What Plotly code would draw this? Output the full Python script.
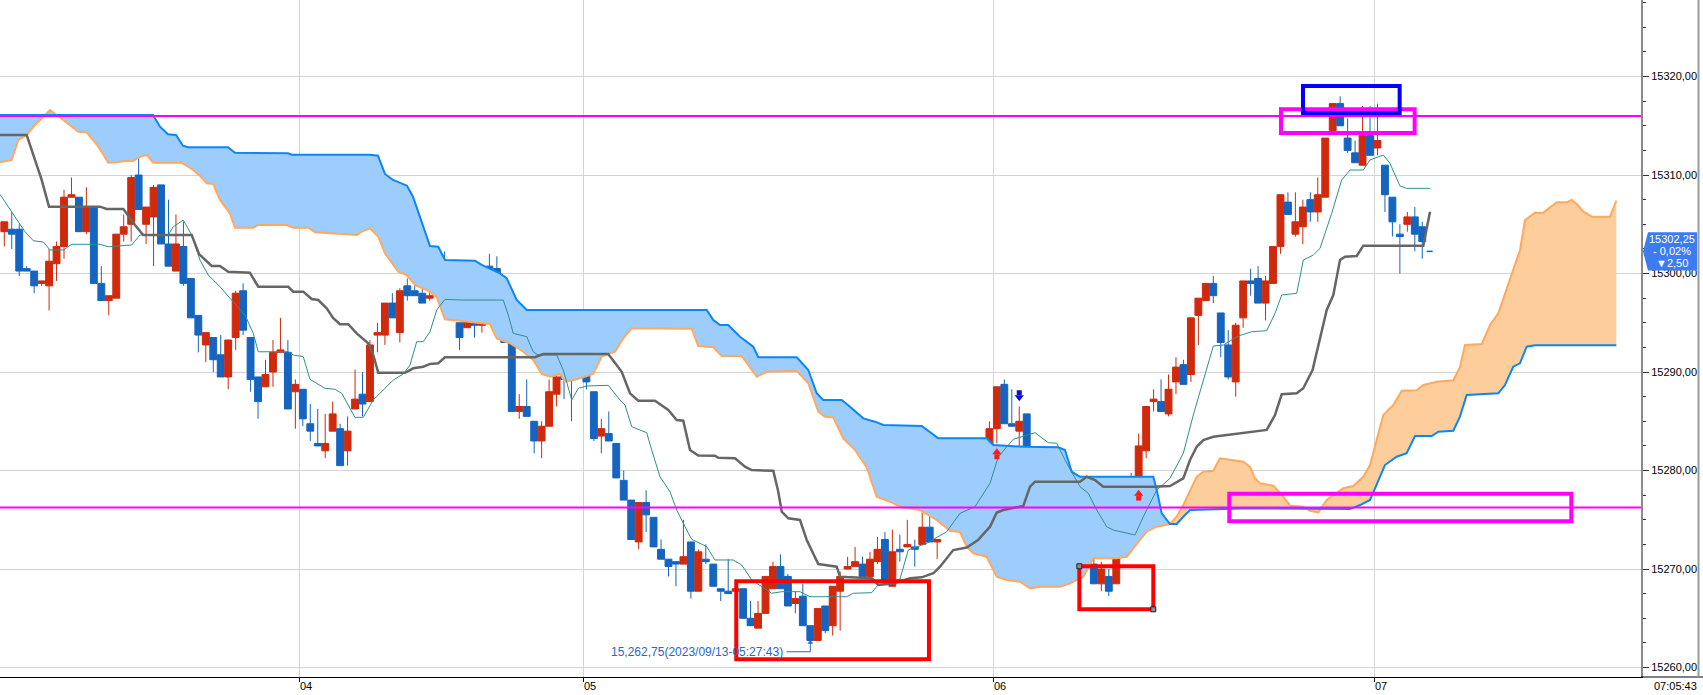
import plotly.graph_objects as go

# ---------------- candle data (index 0..190) ----------------
OPEN = [
    15304.25, 15304.5, 15304.5, 15300.5, 15300.25, 15299.0, 15298.75, 15301.0, 15302.75, 15307.75,
    15307.75, 15304.25, 15306.75, 15299.0, 15297.25, 15297.5, 15304.0, 15305.0, 15310.0, 15305.0,
    15305.75, 15309.0, 15303.0, 15300.25, 15302.75, 15299.5, 15295.75, 15292.75, 15293.5, 15291.75,
    15289.5, 15293.5, 15298.25, 15293.5, 15289.5, 15288.5, 15290.0, 15292.0, 15292.0, 15288.0,
    15288.25, 15284.75, 15282.75, 15282.0, 15284.0, 15284.25, 15282.0, 15286.25, 15287.75, 15287.0,
    15293.75, 15293.75, 15297.0, 15294.0, 15298.75, 15298.25, 15298.0, 15297.5, 15297.75, 15300.75,
    15297.75, 15295.0, 15294.5, 15298.75, 15294.75, 15300.75, 15300.5, 15297.0, 15293.0, 15286.0,
    15286.5, 15285.0, 15283.0, 15284.5, 15287.75, 15289.75, 15289.5, 15292.5, 15295.5, 15288.0,
    15283.5, 15283.75, 15282.75, 15279.0, 15277.0, 15272.75, 15276.75, 15275.25, 15272.0, 15271.0,
    15270.75, 15270.5, 15272.75, 15267.75, 15271.0, 15270.5, 15268.0, 15267.75, 15267.75, 15268.0,
    15265.0, 15264.0, 15265.5, 15268.0, 15270.25, 15269.25, 15266.5, 15267.25, 15264.25, 15262.75,
    15266.25, 15264.25, 15267.75, 15270.0, 15270.25, 15270.5, 15269.25, 15270.75, 15273.0, 15268.25,
    15272.0, 15272.25, 15272.25, 15272.5, 15274.25, 15272.75, 15274.5, 15278.25, 15280.5, 15279.5,
    15281.5, 15280.0, 15282.25, 15284.25, 15288.75, 15284.75, 15284.0, 15285.75, 15281.0, 15278.25,
    15278.25, 15278.25, 15278.25, 15272.75, 15270.5, 15274.25, 15270.5, 15268.5, 15269.25, 15268.5,
    15273.0, 15275.5, 15279.25, 15282.0, 15287.0, 15287.0, 15285.75, 15289.0, 15290.75, 15289.75,
    15295.75, 15297.25, 15299.0, 15296.0, 15292.75, 15289.0, 15295.5, 15299.25, 15299.5, 15297.0,
    15299.0, 15302.75, 15307.25, 15304.0, 15304.75, 15307.5, 15306.25, 15307.75, 15314.5, 15317.25,
    15313.75, 15312.25, 15311.0, 15314.0, 15312.75, 15311.0, 15307.75, 15304.0, 15305.0, 15305.75,
    15304.75,
]
HIGH = [
    15305.25, 15306.25, 15305.0, 15300.75, 15300.25, 15299.25, 15302.5, 15303.25, 15308.5, 15309.75,
    15307.75, 15308.75, 15306.75, 15300.75, 15297.75, 15304.0, 15306.0, 15310.0, 15312.0, 15306.75,
    15309.0, 15309.0, 15307.5, 15306.0, 15305.25, 15299.5, 15295.75, 15294.0, 15293.5, 15293.75,
    15293.25, 15298.25, 15299.0, 15293.5, 15289.5, 15291.25, 15293.25, 15295.5, 15293.25, 15289.25,
    15288.25, 15286.75, 15286.25, 15285.75, 15287.0, 15284.75, 15285.5, 15290.25, 15290.0, 15293.25,
    15295.0, 15297.0, 15298.0, 15298.5, 15299.5, 15300.5, 15299.5, 15301.0, 15300.75, 15302.25,
    15298.5, 15295.0, 15299.75, 15298.75, 15300.5, 15302.0, 15301.75, 15297.0, 15293.0, 15287.75,
    15289.25, 15285.0, 15285.0, 15289.25, 15292.25, 15290.25, 15292.75, 15295.5, 15295.75, 15288.0,
    15285.25, 15286.0, 15282.75, 15280.0, 15277.0, 15276.75, 15278.0, 15275.25, 15273.0, 15271.0,
    15270.75, 15275.0, 15272.75, 15272.0, 15272.5, 15270.5, 15268.0, 15271.0, 15268.25, 15268.0,
    15266.75, 15266.75, 15269.25, 15270.75, 15271.5, 15269.5, 15267.75, 15268.5, 15264.25, 15266.0,
    15266.25, 15268.25, 15269.75, 15271.25, 15272.25, 15271.25, 15271.75, 15273.25, 15273.75, 15274.0,
    15273.5, 15275.0, 15273.0, 15275.75, 15276.5, 15273.0, 15278.0, 15280.5, 15281.25, 15281.25,
    15281.5, 15283.25, 15285.0, 15288.5, 15289.25, 15288.25, 15286.5, 15285.75, 15281.0, 15279.75,
    15279.5, 15281.0, 15279.75, 15272.75, 15274.25, 15274.5, 15271.25, 15270.75, 15270.0, 15275.5,
    15276.0, 15279.75, 15283.75, 15286.5, 15288.25, 15289.25, 15289.75, 15291.5, 15291.25, 15295.5,
    15297.5, 15299.0, 15299.75, 15296.0, 15294.25, 15295.0, 15299.25, 15300.5, 15300.75, 15299.75,
    15302.75, 15308.0, 15308.25, 15308.25, 15307.5, 15308.25, 15309.75, 15313.75, 15317.25, 15318.0,
    15315.75, 15313.5, 15317.0, 15317.0, 15317.25, 15311.0, 15307.75, 15305.0, 15306.25, 15306.75,
    15305.25,
]
LOW = [
    15302.75, 15302.5, 15299.75, 15300.25, 15298.0, 15298.75, 15296.25, 15299.25, 15301.5, 15307.75,
    15304.25, 15304.0, 15299.0, 15297.25, 15295.75, 15297.5, 15303.25, 15303.25, 15306.5, 15303.0,
    15300.75, 15303.0, 15300.75, 15300.25, 15298.75, 15295.5, 15292.0, 15291.0, 15290.0, 15289.5,
    15288.25, 15292.25, 15293.75, 15288.0, 15285.25, 15288.5, 15288.5, 15292.0, 15286.25, 15284.25,
    15284.5, 15283.0, 15282.5, 15281.25, 15284.0, 15280.5, 15280.5, 15286.25, 15285.5, 15287.0,
    15292.0, 15292.75, 15295.5, 15293.0, 15297.25, 15297.75, 15297.0, 15297.25, 15297.75, 15296.0,
    15295.5, 15292.25, 15294.5, 15293.5, 15294.0, 15298.5, 15297.5, 15293.0, 15286.0, 15285.25,
    15285.5, 15281.75, 15281.25, 15284.5, 15286.5, 15287.25, 15285.0, 15291.5, 15288.25, 15283.0,
    15281.75, 15283.0, 15279.25, 15277.0, 15273.0, 15272.0, 15273.75, 15272.25, 15271.0, 15269.25,
    15268.25, 15270.5, 15267.0, 15267.75, 15270.5, 15268.25, 15266.75, 15267.5, 15267.5, 15265.0,
    15264.25, 15264.0, 15265.5, 15268.0, 15268.0, 15266.25, 15265.5, 15264.25, 15262.75, 15262.75,
    15263.5, 15263.25, 15263.75, 15270.0, 15270.25, 15269.25, 15268.75, 15270.5, 15268.75, 15268.25,
    15270.75, 15272.25, 15270.25, 15272.5, 15272.75, 15271.0, 15274.5, 15278.25, 15279.0, 15277.0,
    15278.5, 15280.0, 15282.25, 15282.75, 15284.75, 15284.5, 15281.0, 15280.5, 15278.5, 15277.0,
    15276.25, 15276.75, 15273.25, 15269.5, 15270.5, 15270.5, 15268.5, 15267.75, 15267.25, 15268.5,
    15272.0, 15275.5, 15278.5, 15281.25, 15286.0, 15286.0, 15285.5, 15287.75, 15288.75, 15289.0,
    15292.75, 15297.25, 15297.0, 15291.5, 15289.25, 15287.5, 15294.5, 15297.75, 15297.0, 15295.25,
    15299.0, 15302.0, 15306.0, 15303.75, 15303.0, 15305.25, 15305.25, 15307.75, 15314.5, 15315.0,
    15312.25, 15311.25, 15311.0, 15312.0, 15312.0, 15306.25, 15303.75, 15300.0, 15304.25, 15302.25,
    15301.5,
]
CLOSE = [
    15305.25, 15304.0, 15300.25, 15300.25, 15298.75, 15299.25, 15301.25, 15302.75, 15307.75, 15308.0,
    15304.25, 15306.75, 15299.0, 15297.25, 15297.75, 15304.0, 15304.75, 15309.75, 15306.5, 15306.75,
    15308.75, 15303.0, 15300.75, 15303.0, 15299.0, 15295.5, 15293.75, 15294.0, 15291.25, 15289.5,
    15293.25, 15298.0, 15294.25, 15289.25, 15287.0, 15289.75, 15292.0, 15292.25, 15286.25, 15288.75,
    15285.25, 15284.0, 15282.5, 15282.75, 15285.75, 15280.5, 15284.0, 15287.25, 15286.75, 15292.75,
    15294.0, 15297.0, 15295.5, 15298.25, 15297.75, 15297.75, 15297.0, 15297.75, 15300.75, 15297.5,
    15296.0, 15293.5, 15299.25, 15294.75, 15300.25, 15300.5, 15297.5, 15293.0, 15286.0, 15286.5,
    15285.5, 15283.0, 15284.5, 15288.0, 15289.5, 15289.25, 15292.25, 15295.5, 15289.0, 15283.25,
    15284.25, 15283.0, 15279.25, 15277.0, 15273.0, 15276.75, 15275.5, 15272.25, 15271.0, 15270.25,
    15270.5, 15271.25, 15267.75, 15271.75, 15270.75, 15268.25, 15267.75, 15267.5, 15268.0, 15265.0,
    15264.25, 15265.5, 15269.25, 15270.25, 15268.0, 15266.25, 15267.0, 15264.25, 15262.75, 15266.0,
    15263.75, 15268.25, 15269.25, 15270.25, 15270.75, 15269.25, 15271.0, 15272.0, 15268.75, 15271.75,
    15271.75, 15272.5, 15272.0, 15274.25, 15272.75, 15273.0, 15278.0, 15280.25, 15279.0, 15281.25,
    15279.5, 15282.75, 15284.25, 15288.5, 15284.75, 15284.5, 15285.0, 15281.0, 15278.5, 15279.75,
    15277.0, 15278.5, 15273.25, 15270.75, 15274.25, 15270.5, 15268.5, 15270.0, 15267.75, 15273.75,
    15275.25, 15279.25, 15282.5, 15286.5, 15287.25, 15286.0, 15288.25, 15290.5, 15288.75, 15295.5,
    15297.5, 15299.0, 15297.75, 15293.0, 15289.5, 15294.75, 15299.25, 15299.0, 15297.0, 15299.25,
    15302.75, 15308.0, 15306.0, 15305.25, 15306.75, 15306.25, 15308.0, 15313.75, 15317.25, 15315.0,
    15312.5, 15311.25, 15314.0, 15312.0, 15313.5, 15308.0, 15305.25, 15303.75, 15305.75, 15304.0,
    15303.25,
]

# ---------------- Ichimoku lines (index, price) ----------------
TENKAN = [
    (-0.58, 15308.04), (0.99, 15306.32), (2.77, 15304.25), (3.89, 15303.33), (5.23, 15303.2), (6.12, 15302.39),
    (7.9, 15302.39), (9.03, 15302.97), (12.82, 15302.97), (13.94, 15302.72), (17.07, 15302.9), (18.18, 15303.91),
    (21.97, 15303.91), (22.64, 15304.75), (23.98, 15305.43), (25.11, 15303.91), (26.22, 15301.37), (27.34, 15299.85),
    (28.9, 15298.66), (30.24, 15297.49), (32.25, 15295.79), (33.36, 15293.93), (34.03, 15292.06), (38.05, 15292.06),
    (38.72, 15291.73), (40.06, 15291.56), (40.96, 15289.26), (42.97, 15288.35), (44.31, 15288.25), (45.21, 15287.84),
    (46.09, 15286.65), (46.99, 15285.4), (48.1, 15285.4), (49.44, 15287.16), (50.78, 15288.18), (52.12, 15289.19),
    (53.46, 15289.8), (54.36, 15290.71), (55.26, 15293.08), (56.14, 15293.08), (57.04, 15294.09), (57.94, 15296.3),
    (59.05, 15297.38), (61.29, 15297.31), (66.86, 15297.31), (67.53, 15295.79), (68.2, 15293.93), (70.0, 15293.59),
    (70.88, 15292.06), (71.55, 15291.73), (74.02, 15291.73), (74.9, 15290.21), (76.03, 15287.16), (76.91, 15288.35),
    (78.04, 15288.58), (80.93, 15288.65), (82.5, 15287.16), (83.17, 15286.65), (84.07, 15284.45), (86.08, 15283.84),
    (86.75, 15282.08), (87.86, 15279.37), (89.2, 15277.85), (90.1, 15275.99), (91.44, 15273.96), (92.11, 15273.02),
    (94.12, 15272.27), (95.23, 15270.92), (97.68, 15270.92), (98.81, 15270.41), (100.15, 15268.89), (102.83, 15267.54),
    (104.17, 15267.7), (106.62, 15267.7), (107.96, 15267.19), (112.88, 15267.19), (113.76, 15267.54), (116.23, 15267.6),
    (117.07, 15268.38), (120.02, 15268.99), (121.13, 15271.93), (123.6, 15272.61), (126.28, 15273.79), (128.06, 15275.66),
    (130.07, 15276.33), (130.97, 15277.34), (132.08, 15278.7), (133.19, 15281.4), (134.32, 15282.42), (135.2, 15283.17),
    (138.11, 15283.84), (139.9, 15282.83), (141.02, 15282.77), (142.36, 15280.73), (144.14, 15278.36), (145.25, 15277.69),
    (146.38, 15275.99), (147.72, 15274.3), (148.6, 15273.96), (151.51, 15273.46), (152.62, 15275.31), (154.42, 15278.02),
    (156.2, 15279.21), (157.98, 15281.75), (159.32, 15285.64), (160.66, 15289.02), (162.0, 15292.64), (163.34, 15292.74),
    (165.35, 15293.66), (167.15, 15294.09), (169.16, 15294.2), (170.27, 15295.96), (171.17, 15297.82), (173.18, 15297.99),
    (174.06, 15301.37), (175.4, 15301.88), (176.3, 15302.56), (177.86, 15306.11), (179.2, 15309.5), (180.32, 15310.51),
    (182.1, 15310.51), (183.0, 15311.53), (184.78, 15312.03), (185.67, 15311.19), (187.01, 15308.89), (187.91, 15308.65),
    (191.04, 15308.65),
]
KIJUN = [
    (-0.58, 15314.06), (3.0, 15314.06), (4.11, 15311.53), (5.01, 15309.5), (5.99, 15306.79), (12.82, 15306.79),
    (13.72, 15306.55), (15.95, 15306.55), (17.51, 15304.93), (18.62, 15303.91), (25.11, 15303.91), (26.09, 15301.98),
    (27.79, 15300.77), (28.9, 15300.77), (30.01, 15300.19), (32.92, 15300.08), (34.03, 15298.66), (38.05, 15298.66),
    (38.72, 15298.16), (40.06, 15298.16), (41.19, 15297.41), (42.07, 15297.31), (43.2, 15296.47), (44.08, 15295.46),
    (44.98, 15294.85), (46.09, 15294.85), (47.22, 15293.93), (48.77, 15292.92), (49.44, 15291.73), (50.11, 15289.93),
    (53.69, 15289.93), (54.8, 15290.38), (56.14, 15290.54), (57.04, 15290.82), (58.15, 15290.89), (59.05, 15291.5),
    (71.11, 15291.5), (72.22, 15291.83), (80.93, 15291.83), (82.73, 15290.03), (83.84, 15287.84), (84.95, 15287.09),
    (87.19, 15287.09), (88.97, 15286.15), (90.1, 15285.13), (90.98, 15285.06), (91.88, 15282.08), (92.99, 15281.53),
    (95.23, 15281.51), (95.67, 15281.3), (97.91, 15281.24), (99.25, 15280.39), (100.15, 15280.05), (103.04, 15279.98),
    (103.71, 15277.85), (104.17, 15275.82), (105.05, 15275.15), (106.62, 15274.98), (107.52, 15272.95), (109.07, 15270.51),
    (111.54, 15270.24), (111.98, 15269.22), (116.23, 15269.06), (117.11, 15268.38), (119.12, 15268.53), (121.36, 15269.06),
    (122.93, 15269.16), (124.48, 15269.57), (125.38, 15270.24), (126.28, 15271.09), (127.16, 15271.93), (128.96, 15272.19),
    (130.47, 15272.95), (132.08, 15274.3), (132.98, 15275.74), (133.86, 15275.99), (136.54, 15276.4), (137.44, 15278.36),
    (138.11, 15278.87), (144.14, 15278.87), (145.04, 15279.37), (146.15, 15279.04), (147.26, 15278.36), (153.96, 15278.36),
    (156.2, 15278.43), (157.98, 15279.21), (158.88, 15281.07), (159.78, 15282.42), (160.66, 15283.1), (162.0, 15283.43),
    (166.92, 15283.86), (169.16, 15284.12), (170.27, 15285.64), (171.17, 15287.74), (173.18, 15287.84), (174.06, 15288.35),
    (175.3, 15290.21), (176.3, 15293.59), (177.2, 15296.3), (178.08, 15297.82), (178.98, 15301.37), (179.65, 15301.71),
    (181.22, 15301.78), (182.1, 15302.83), (190.14, 15302.83), (191.04, 15306.28),
]
SPAN_A = [
    (-0.58, 15311.29), (0.99, 15311.53), (1.88, 15313.56), (3.0, 15314.06), (4.11, 15315.08), (6.12, 15316.6),
    (7.9, 15315.59), (9.92, 15314.4), (11.04, 15314.34), (12.6, 15312.88), (13.94, 15311.25), (15.06, 15311.29),
    (16.17, 15311.42), (17.29, 15311.42), (18.18, 15311.86), (19.08, 15312.03), (19.97, 15311.25), (23.77, 15311.25),
    (25.32, 15310.51), (26.22, 15309.93), (27.12, 15309.16), (28.0, 15309.09), (28.9, 15307.47), (30.24, 15306.11),
    (30.91, 15304.65), (33.36, 15304.65), (34.03, 15304.93), (37.84, 15304.93), (38.72, 15304.65), (40.73, 15304.65),
    (41.63, 15304.19), (43.41, 15304.08), (47.22, 15303.91), (47.89, 15304.25), (49.0, 15304.59), (50.11, 15303.74),
    (51.01, 15302.05), (52.79, 15300.19), (53.92, 15299.85), (55.03, 15298.84), (56.6, 15298.33), (57.94, 15297.62),
    (59.05, 15295.35), (65.08, 15294.88), (65.98, 15293.42), (67.76, 15292.92), (69.54, 15292.06), (70.88, 15291.22),
    (72.01, 15289.8), (73.12, 15289.53), (74.46, 15289.8), (75.13, 15289.02), (76.7, 15289.26), (78.92, 15289.8),
    (80.05, 15291.56), (81.16, 15291.9), (81.83, 15292.06), (82.94, 15293.42), (84.07, 15294.44), (92.11, 15294.4),
    (92.99, 15292.64), (95.0, 15292.51), (96.13, 15291.63), (98.81, 15291.63), (100.82, 15289.53), (102.16, 15290.03),
    (106.18, 15290.13), (107.73, 15288.86), (109.07, 15285.97), (109.97, 15285.47), (111.08, 15285.4), (112.42, 15283.27),
    (113.99, 15282.08), (115.56, 15280.31), (116.9, 15277.34), (119.12, 15276.7), (120.02, 15276.33), (122.7, 15275.99),
    (124.94, 15274.98), (126.72, 15273.89), (128.06, 15273.76), (128.96, 15272.27), (129.84, 15271.6), (131.64, 15271.25),
    (132.98, 15269.22), (134.32, 15268.89), (136.1, 15268.71), (137.44, 15268.04), (138.78, 15268.21), (141.46, 15268.21),
    (142.8, 15268.55), (144.58, 15269.22), (145.92, 15271.09), (149.06, 15271.09), (150.4, 15271.25), (152.18, 15272.95),
    (153.08, 15273.79), (154.42, 15274.3), (156.2, 15274.57), (157.1, 15275.31), (157.98, 15276.5), (159.78, 15279.37),
    (160.66, 15279.88), (162.0, 15279.98), (162.9, 15281.24), (166.02, 15280.9), (166.92, 15280.36), (167.59, 15279.21),
    (168.26, 15278.7), (170.04, 15278.46), (171.38, 15277.34), (172.28, 15276.43), (174.06, 15276.33), (174.95, 15275.92),
    (176.07, 15275.76), (177.2, 15277.01), (179.42, 15278.2), (180.76, 15278.43), (182.1, 15279.37), (183.0, 15280.56),
    (183.89, 15283.1), (184.78, 15285.64), (186.12, 15286.65), (187.25, 15288.11), (189.26, 15288.15), (190.14, 15288.68),
    (191.94, 15289.02), (194.17, 15289.16), (195.07, 15290.54), (195.73, 15292.74), (197.97, 15292.85), (199.08, 15294.77),
    (200.19, 15295.96), (201.09, 15297.99), (202.2, 15300.53), (203.1, 15302.39), (203.77, 15305.43), (204.43, 15305.77),
    (205.1, 15306.18), (206.22, 15306.18), (206.68, 15306.45), (208.02, 15307.23), (209.36, 15307.23), (210.03, 15307.47),
    (210.7, 15307.06), (211.59, 15306.28), (212.71, 15305.77), (215.16, 15305.77), (216.0, 15307.39),
]
SPAN_B = [
    (-0.58, 15316.1), (19.93, 15316.1), (20.86, 15314.91), (21.93, 15314.14), (23.01, 15314.06), (23.94, 15312.98),
    (24.61, 15312.82), (29.97, 15312.82), (30.91, 15312.27), (38.01, 15312.21), (38.55, 15312.06), (49.0, 15312.06),
    (50.07, 15311.96), (51.01, 15310.11), (52.08, 15309.5), (53.96, 15308.92), (54.76, 15307.8), (56.1, 15304.75),
    (57.04, 15302.8), (58.15, 15302.72), (59.05, 15301.37), (63.07, 15301.3), (63.97, 15300.87), (66.42, 15300.02),
    (67.32, 15299.52), (68.66, 15297.31), (70.0, 15296.3), (94.12, 15296.3), (95.0, 15295.28), (95.9, 15294.77),
    (97.0, 15294.77), (98.58, 15293.59), (100.36, 15292.57), (101.03, 15291.5), (106.18, 15291.5), (107.73, 15290.21),
    (108.86, 15287.84), (109.74, 15287.16), (112.2, 15287.16), (113.32, 15286.48), (115.1, 15285.3), (116.67, 15284.96),
    (117.78, 15284.62), (122.93, 15284.52), (125.15, 15283.27), (131.64, 15283.27), (132.52, 15282.59), (136.54, 15282.42),
    (141.23, 15282.36), (142.13, 15282.08), (143.03, 15279.88), (144.14, 15279.37), (153.96, 15279.37), (154.42, 15278.02),
    (155.09, 15275.66), (156.2, 15274.57), (157.1, 15274.57), (157.98, 15275.31), (158.88, 15275.99), (166.92, 15276.17),
    (180.32, 15276.09), (181.66, 15276.5), (183.0, 15277.01), (183.67, 15278.2), (185.0, 15280.56), (186.57, 15281.4),
    (187.91, 15281.75), (189.03, 15283.51), (191.26, 15283.51), (192.15, 15283.94), (194.16, 15284.04), (195.05, 15285.47),
    (195.95, 15287.67), (200.19, 15287.84), (201.08, 15288.68), (202.19, 15290.54), (203.09, 15290.89), (203.99, 15292.57),
    (205.1, 15292.71), (216.0, 15292.71),
]
CLOUD_TWIST = 156.2          # where the two spans cross

# ---------------- annotations / drawings ----------------
HOUR_TICKS = [39.53, 77.58, 132.52, 183.57]
HOUR_LABELS = ["04", "05", "06", "07"]
LEVELS = [15316.0, 15276.25]                      # magenta horizontal lines
RECTS = [                                           # (x0, x1, y0, y1, color)
    (98.08, 123.9, 15260.84, 15268.75, "#ff0000"),
    (144.05, 153.96, 15265.91, 15270.28, "#ff0000"),
    (164.14, 209.97, 15274.85, 15277.65, "#ff00ff"),
    (171.07, 188.98, 15314.27, 15316.67, "#ff00ff"),
    (174.02, 186.97, 15316.3, 15319.04, "#0000ff"),
]
SIG_UP_IDX = [133, 152]
SIG_UP_PRICE = [15281.7, 15277.5]
SIG_DN_IDX = [136]
SIG_DN_PRICE = [15287.6]
LAST_PRICE = 15302.25
LAST_TEXT = ["15302,25", "- 0,02%", "\u25bc2,50"]
MIN_TEXT = "15,262,75(2023/09/13-05:27:43)"
CLOCK = "07:05:43"

RED = "#d0290c"
BLUE = "#1464c0"
FONT = "Liberation Sans"

IDX = list(range(len(OPEN)))
X_RANGE = [-0.576, 219.31]
Y_RANGE = [15259.04, 15327.77]
PLOT_W = 1641.0

fig = go.Figure()


def part(points, lo, hi):
    pts = [p for p in points if lo <= p[0] <= hi]
    return [p[0] for p in pts], [p[1] for p in pts]


# cloud fills
for lo, hi, col in [(-1e9, CLOUD_TWIST, "#9dcdfd"), (CLOUD_TWIST, 1e9, "#fecd9c")]:
    bx, by = part(SPAN_B, lo, hi)
    ax_, ay_ = part(SPAN_A, lo, hi)
    fig.add_trace(go.Scatter(x=bx, y=by, mode="lines", line=dict(width=0), hoverinfo="skip"))
    fig.add_trace(go.Scatter(x=ax_, y=ay_, mode="lines", line=dict(width=0),
                             fill="tonexty", fillcolor=col, hoverinfo="skip"))


def add_line(points, color, width):
    fig.add_trace(go.Scatter(x=[p[0] for p in points], y=[p[1] for p in points], mode="lines",
                             line=dict(color=color, width=width), hoverinfo="skip"))


add_line(SPAN_A, "#ffa95e", 2)
add_line(SPAN_B, "#0a86f7", 2)
add_line(TENKAN, "#2f8f88", 1)
add_line(KIJUN, "#666666", 2.5)

fig.add_trace(go.Candlestick(
    x=IDX, open=OPEN, high=HIGH, low=LOW, close=CLOSE,
    increasing=dict(line=dict(color=RED, width=1), fillcolor=RED),
    decreasing=dict(line=dict(color=BLUE, width=1), fillcolor=BLUE),
    whiskerwidth=0, hoverinfo="skip"))

# signal arrows (head + stem)
fig.add_trace(go.Scatter(x=SIG_UP_IDX, y=[p + 0.15 for p in SIG_UP_PRICE], mode="markers",
                         marker=dict(symbol="triangle-up", size=8, color="#ff1a1a", line=dict(width=0)),
                         hoverinfo="skip"))
fig.add_trace(go.Scatter(x=SIG_UP_IDX, y=[p - 0.3 for p in SIG_UP_PRICE], mode="markers",
                         marker=dict(symbol="square", size=5, color="#ff1a1a", line=dict(width=0)),
                         hoverinfo="skip"))
fig.add_trace(go.Scatter(x=SIG_DN_IDX, y=[p - 0.15 for p in SIG_DN_PRICE], mode="markers",
                         marker=dict(symbol="triangle-down", size=8, color="#0a0ae6", line=dict(width=0)),
                         hoverinfo="skip"))
fig.add_trace(go.Scatter(x=SIG_DN_IDX, y=[p + 0.3 for p in SIG_DN_PRICE], mode="markers",
                         marker=dict(symbol="square", size=5, color="#0a0ae6", line=dict(width=0)),
                         hoverinfo="skip"))

# lowest-price marker
min_idx = min(IDX, key=lambda i: LOW[i])
min_price = LOW[min_idx]
label_level = min_price - 1.15
fig.add_trace(go.Scatter(x=[min_idx - 3.2, min_idx, min_idx], y=[label_level, label_level, min_price - 0.1],
                         mode="lines", line=dict(color="#2a66c8", width=1), hoverinfo="skip"))
fig.add_trace(go.Scatter(x=[min_idx], y=[min_price - 0.2], mode="markers",
                         marker=dict(symbol="triangle-up", size=5, color="#2a66c8"), hoverinfo="skip"))

# current price dash
last_i = IDX[-1]
fig.add_trace(go.Scatter(x=[last_i + 0.6, last_i + 1.4], y=[LAST_PRICE, LAST_PRICE], mode="lines",
                         line=dict(color=BLUE, width=1.5), hoverinfo="skip"))

shapes = []
for lv in LEVELS:
    shapes.append(dict(type="line", xref="paper", yref="y", x0=0, x1=1, y0=lv, y1=lv,
                       line=dict(color="#ff00ff", width=2), layer="above"))
for x0, x1, y0, y1, col in RECTS:
    shapes.append(dict(type="rect", xref="x", yref="y", x0=x0, x1=x1, y0=y0, y1=y1,
                       line=dict(color=col, width=4), fillcolor="rgba(0,0,0,0)", layer="above"))
# selection handles on second red box
r2 = RECTS[1]
for hx, hy in [(r2[0], r2[3]), (r2[1], r2[2])]:
    shapes.append(dict(type="rect", xref="x", yref="y", xsizemode="pixel", ysizemode="pixel",
                       xanchor=hx, yanchor=hy, x0=-2.5, x1=2.5, y0=-2.5, y1=2.5,
                       line=dict(color="#222222", width=1), fillcolor="#8c8c8c", layer="above"))
# price tag on the axis
px = lambda v: v / PLOT_W
h = 1.95
tag = (f"M {px(1643)},{LAST_PRICE} L {px(1648)},{LAST_PRICE + h} L {px(1697)},{LAST_PRICE + h} "
       f"L {px(1697)},{LAST_PRICE - h} L {px(1648)},{LAST_PRICE - h} Z")
shapes.append(dict(type="path", xref="paper", yref="y", path=tag, fillcolor="#3b7df0",
                   line=dict(width=0), layer="above"))
# frame lines in the right margin
shapes.append(dict(type="line", xref="paper", yref="paper", x0=1, x1=px(1703), y0=0, y1=0,
                   line=dict(color="#000000", width=1), layer="above"))
shapes.append(dict(type="line", xref="paper", yref="paper", x0=px(1698.5), x1=px(1698.5), y0=0, y1=1,
                   line=dict(color="#9a9a9a", width=2), layer="above"))

annotations = []
for t, lab in zip(HOUR_TICKS, HOUR_LABELS):
    annotations.append(dict(x=t, y=0, xref="x", yref="paper", text=lab, showarrow=False,
                            xanchor="left", yanchor="top", yshift=-1, xshift=-1,
                            font=dict(family=FONT, size=11, color="#000000")))
annotations.append(dict(x=px(1675), y=0, xref="paper", yref="paper", text=CLOCK, showarrow=False,
                        xanchor="center", yanchor="top", yshift=-1,
                        font=dict(family=FONT, size=11, color="#000000")))
annotations.append(dict(x=min_idx - 3.4, y=label_level, xref="x", yref="y", text=MIN_TEXT, showarrow=False,
                        xanchor="right", yanchor="middle",
                        font=dict(family=FONT, size=12, color="#2a66c8")))
for txt, sh in zip(LAST_TEXT, [12.5, 0, -12]):
    annotations.append(dict(x=px(1672), y=LAST_PRICE, xref="paper", yref="y", text=txt, showarrow=False,
                            xanchor="center", yanchor="middle", yshift=sh,
                            font=dict(family=FONT, size=11, color="#ffffff")))

fig.update_layout(
    width=1703, height=695,
    margin=dict(l=0, r=62, t=0, b=18, pad=0),
    paper_bgcolor="#ffffff", plot_bgcolor="#ffffff",
    showlegend=False, hovermode=False,
    boxgap=0.08, boxgroupgap=0,
    separators=",.",
    shapes=shapes, annotations=annotations,
    font=dict(family=FONT, size=11, color="#000000"),
    xaxis=dict(range=X_RANGE, tickmode="array", tickvals=HOUR_TICKS, showticklabels=False,
               showgrid=True, gridcolor="#d4d4d4", gridwidth=1, zeroline=False,
               ticks="outside", ticklen=4, tickcolor="#000000",
               showline=True, linecolor="#000000", linewidth=1,
               rangeslider=dict(visible=False), fixedrange=True),
    yaxis=dict(range=Y_RANGE, side="right", tickmode="linear", tick0=15260, dtick=10,
               tickformat=".2f", showgrid=True, gridcolor="#d4d4d4", gridwidth=1, zeroline=False,
               ticks="outside", ticklen=6, tickcolor="#333333",
               showline=True, linecolor="#8a8a8a", linewidth=2,
               minor=dict(tickmode="linear", tick0=15260, dtick=2.5, ticks="outside", ticklen=3,
                          tickcolor="#333333", showgrid=False),
               tickfont=dict(family=FONT, size=11, color="#000000"), fixedrange=True),
)

fig.write_html(
    "out.html",
    config={"displayModeBar": False, "staticPlot": True},
    post_script="document.body.style.margin='0px';document.body.style.overflow='hidden';",
)
